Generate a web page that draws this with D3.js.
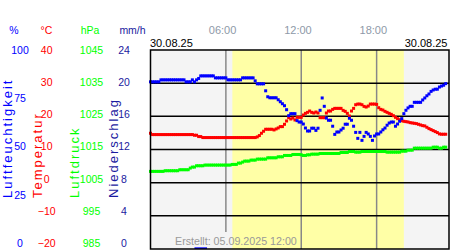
<!DOCTYPE html>
<html><head><meta charset="utf-8">
<script src="https://cdn.jsdelivr.net/npm/d3@7"></script>
<style>
body{margin:0;background:#fff;}
svg{display:block;font-family:"Liberation Sans",Arial,sans-serif;}
</style></head><body>
<svg id="c" width="450" height="250"></svg>
<script>
// ---------- data ----------
const dateLabel = "30.08.25";
const createdLabel = "Erstellt: 05.09.2025 12:00";
const stepMinutes = 10;          // one reading every 10 minutes from 00:00
const sunTimes = ["06:31", "20:10"];
const gridHours = ["06:00", "12:00", "18:00"];

const humidity = [
 84,84,84,84,84,85,85,85,85,85,
 85,85,85,85,85,85,85,84,84,84,
 85,84,85,85.7,87,87,87,87,87,87,
 87,86,86,86,86,86,86,85,85,85,
 85,85,85,85,86,86,86,86,86,86,
 84.5,83,83,83,83,79.5,76.5,76,76,76,
 76,75,74,73,72,70,67,68,68,68,
 64.5,63.8,63.8,62.8,60.8,59.3,59.3,60.7,60.7,59.6,
 60.7,69.7,75.9,71.7,65.8,64.7,64.7,61.7,57.6,58.8,
 58.8,59.8,60.7,62.7,62.7,65.7,64.7,61.7,58.6,55.6,
 58.6,54.6,56.6,58.6,57.8,56.6,54.6,56.8,57.8,57.8,
 58.8,59.9,60.8,62.2,63.3,63.8,63.8,61.7,62.8,64.2,
 65.5,68,69.7,70.9,71.7,71.7,73.7,73.7,73.7,73.7,
 74.9,75.9,77,77.9,79.2,79.9,80.3,80.3,81.4,81.9,
 82.3,83.1
];
const temperature = [
 14.9,14.5,14.5,14.5,14.5,14.5,14.5,14.5,14.5,14.5,
 14.5,14.5,14.5,14.5,14.5,14.5,14.5,14.5,14.5,14.5,
 14.5,14.3,14.3,13.9,13.9,13.6,13.6,13.6,13.6,13.6,
 13.6,13.6,13.6,13.6,13.6,13.6,13.6,13.6,13.6,13.6,
 13.6,13.6,13.6,13.6,13.6,13.6,13.6,13.6,13.6,13.6,
 13.6,13.8,14.2,14.9,15.5,16.1,16.1,16.1,16.1,15.9,
 16.2,16.5,16.9,16.9,17.6,18.6,19.6,19.2,19.5,18.9,
 19.7,19.7,19.7,20.4,20.9,21.2,21.6,21.2,21.0,21.3,
 21.0,19.6,19.6,19.6,21.0,21.6,21.6,22.1,22.4,22.4,
 22.4,22.4,21.8,21.5,20.9,20.1,21.6,22.4,23.5,23.7,
 23.7,23.5,23.0,22.8,23.1,23.7,23.7,23.7,23.6,22.6,
 22.1,21.9,21.5,21.2,20.9,20.6,20.2,19.7,19.3,19.0,
 18.7,18.5,18.4,18.3,18.1,18.0,17.9,17.8,17.6,17.4,
 17.2,17.1,16.7,16.3,16.0,15.7,15.4,15.1,14.7,14.6,
 14.6,14.6
];
const pressure = [
 1008.4,1008.4,1008.4,1008.4,1008.4,1008.4,1008.4,1008.6,1008.6,1008.6,
 1008.6,1008.6,1008.6,1008.6,1008.9,1008.9,1008.9,1008.9,1008.9,1009.4,
 1009.7,1009.7,1010.1,1010.1,1010.1,1010.1,1010.3,1010.3,1010.3,1010.3,
 1010.3,1010.3,1010.3,1010.3,1010.3,1010.3,1010.3,1010.3,1010.3,1010.5,
 1010.5,1010.5,1010.9,1010.9,1011.2,1011.5,1011.5,1011.5,1011.8,1011.8,
 1011.8,1012.1,1012.1,1012.1,1012.1,1012.1,1012.5,1012.5,1012.5,1012.5,
 1012.5,1012.8,1012.8,1012.8,1013.2,1013.2,1013.2,1013.2,1013.5,1013.5,
 1013.5,1013.5,1013.4,1013.2,1013.2,1013.4,1013.4,1013.6,1013.6,1013.6,
 1013.6,1013.8,1013.8,1013.8,1013.8,1013.8,1013.8,1013.8,1013.8,1013.8,
 1013.8,1014.1,1014.1,1014.1,1014.1,1014.4,1014.4,1014.4,1014.2,1014.2,
 1014.2,1014.4,1014.4,1014.4,1014.4,1014.4,1014.4,1014.4,1014.4,1014.4,
 1014.4,1014.4,1014.4,1014.2,1014.2,1014.2,1014.2,1014.2,1014.2,1014.2,
 1014.5,1014.5,1014.5,1014.8,1014.8,1014.8,1015.4,1015.4,1015.4,1015.4,
 1015.4,1015.4,1015.4,1015.4,1015.4,1015.7,1015.7,1015.7,1015.4,1015.4,
 1015.7,1015.7
];
// hourly precipitation (mm/h), hour 0..23
const precipitation = [0,0,0,0,0.2,0,0,0,0,0,0,0,0,0,0,0,0,0,0,0,0,0,0,0];

const humidityTicks = [0,25,50,75,100];
const temperatureTicks = [-20,-10,0,10,20,30,40];
const pressureTicks = [985,995,1005,1015,1025,1035,1045];
const precipTicks = [0,4,8,12,16,20,24];

// ---------- layout ----------
const svg = d3.select("#c");
const L = 150.5, R = 449, T = 50, B = 249;
const toMin = s => { const [h, m] = s.split(":").map(Number); return h * 60 + m; };
const x = d3.scaleLinear().domain([0, 24 * 60]).range([L, 452]);
const yH = d3.scaleLinear().domain([0, 100]).range([B, T]);
const yT = d3.scaleLinear().domain([-20, 40]).range([B, T]);
const yP = d3.scaleLinear().domain([985, 1045]).range([B, T]);
const yN = d3.scaleLinear().domain([0, 24]).range([B, T]);

const BLUE = "#0000ff", RED = "#ff0000", GREEN = "#00ff00", NAVY = "#1a1aa0";

// backgrounds
svg.append("rect").attr("x", L).attr("y", T).attr("width", R - L).attr("height", B - T).attr("fill", "#f4f4f4");
svg.append("rect").attr("x", x(toMin(sunTimes[0]))).attr("y", T)
  .attr("width", x(toMin(sunTimes[1])) - x(toMin(sunTimes[0]))).attr("height", B - T).attr("fill", "#ffffa6");

// created label
const created = svg.append("text").attr("x", 175).attr("y", 245).attr("font-size", 10.7)
  .attr("fill", "#999").text(createdLabel);
const cb = created.node().getBBox();

// vertical grid
svg.append("g").selectAll("line").data(gridHours).join("line")
  .attr("x1", d => x(toMin(d))).attr("x2", d => x(toMin(d)))
  .attr("y1", T).attr("y2", d => { const xv = x(toMin(d)); return (xv > cb.x && xv < cb.x + cb.width) ? cb.y - 3 : B; })
  .attr("stroke", "#888").attr("stroke-width", 1.5);

// horizontal grid
svg.append("g").selectAll("line").data(temperatureTicks.slice(1, -1)).join("line")
  .attr("x1", L).attr("x2", R).attr("y1", d => yT(d)).attr("y2", d => yT(d))
  .attr("stroke", "#000").attr("stroke-width", 1.5);

// time labels
svg.append("g").selectAll("text").data(gridHours).join("text")
  .attr("x", d => x(toMin(d)) - 3.3).attr("y", 34).attr("text-anchor", "middle")
  .attr("font-size", 11).attr("fill", "#8e99a8").text(d => d);

// date labels
svg.append("text").attr("x", L - 0.5).attr("y", 46.7).attr("font-size", 11).attr("fill", "#000").text(dateLabel);
svg.append("text").attr("x", 447.5).attr("y", 46.7).attr("font-size", 11).attr("text-anchor", "end").attr("fill", "#000").text(dateLabel);

// precipitation bars
svg.append("g").selectAll("rect").data(precipitation.map((v, h) => ({h, v})).filter(d => d.v > 0)).join("rect")
  .attr("x", d => x(d.h * 60 - 30)).attr("width", d => x(d.h * 60 + 30) - x(d.h * 60 - 30))
  .attr("y", d => yN(d.v)).attr("height", d => B - yN(d.v)).attr("fill", BLUE);

// series as square markers
function squares(values, y, color) {
  svg.append("g").selectAll("rect").data(values).join("rect")
    .attr("x", (d, i) => x(i * stepMinutes) - 1.5).attr("y", d => y(d) - 1.5)
    .attr("width", 3).attr("height", 3).attr("fill", color);
}
squares(pressure, yP, GREEN);
squares(temperature, yT, RED);
squares(humidity, yH, BLUE);

// frame
svg.append("rect").attr("x", L).attr("y", T).attr("width", R - L).attr("height", B - T)
  .attr("fill", "none").attr("stroke", "#000").attr("stroke-width", 1.5);

// left axes
const axesDef = [
  {unit: "%", unitX: 14, title: "Luftfeuchtigkeit", titleX: 11.5, ticks: humidityTicks, dom: [0, 100], cx: 20, color: BLUE},
  {unit: "°C", unitX: 46.5, title: "Temperatur", titleX: 41.5, ticks: temperatureTicks, dom: [-20, 40], cx: 46.7, color: RED},
  {unit: "hPa", unitX: 90, title: "Luftdruck", titleX: 79, ticks: pressureTicks, dom: [985, 1045], cx: 91.5, color: GREEN},
  {unit: "mm/h", unitX: 132.5, title: "Niederschlag", titleX: 117.5, ticks: precipTicks, dom: [0, 24], cx: 124, color: NAVY}
];
axesDef.forEach(a => {
  const ls = d3.scaleLinear().domain(a.dom).range([243, 50]);
  const g = svg.append("g").attr("transform", `translate(${a.cx},0)`)
    .call(d3.axisLeft(ls).tickValues(a.ticks).tickSize(0).tickPadding(0).tickFormat(d3.format("d")));
  g.select(".domain").remove();
  g.selectAll("text").attr("x", 0).attr("text-anchor", "middle").attr("fill", a.color)
    .attr("font-size", 10.5).attr("font-family", "Liberation Sans, Arial, sans-serif");
  svg.append("text").attr("x", a.unitX).attr("y", 34.3).attr("text-anchor", "middle")
    .attr("font-size", 10.5).attr("fill", a.color).text(a.unit);
  svg.append("text").attr("transform", `translate(${a.titleX},198) rotate(-90)`)
    .attr("font-size", 13).attr("letter-spacing", 2).attr("fill", a.color).text(a.title);
});
</script>
</body></html>
